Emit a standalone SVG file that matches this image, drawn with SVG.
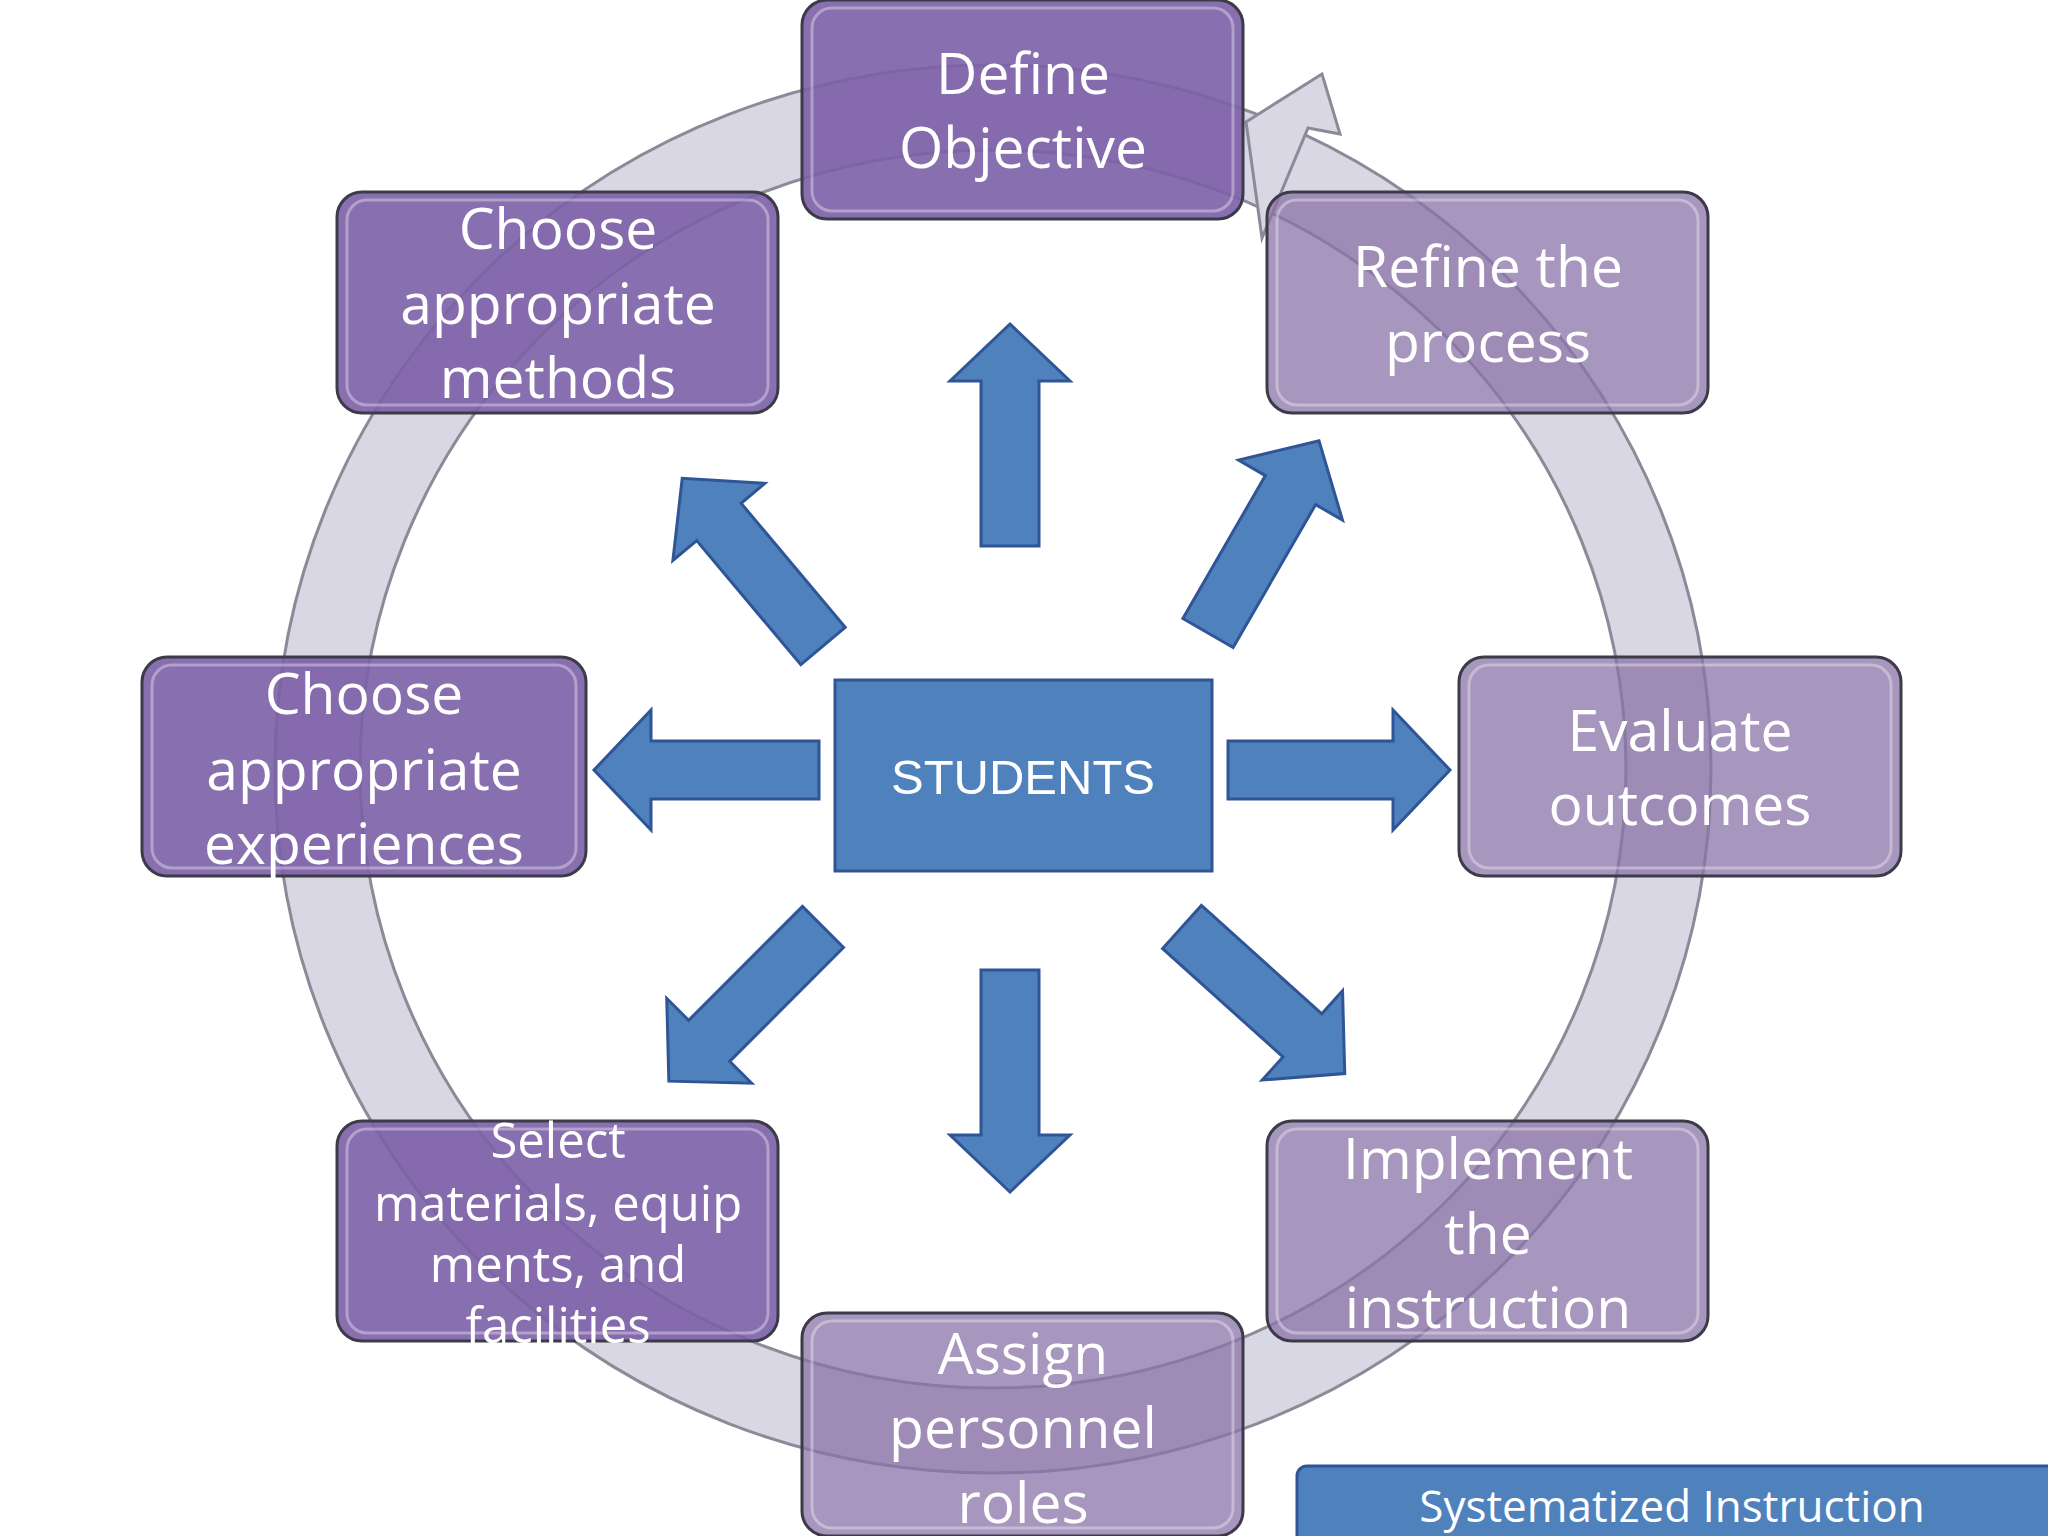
<svg xmlns="http://www.w3.org/2000/svg" width="2048" height="1536" viewBox="0 0 2048 1536">
<defs>
<style>
.box{stroke:#3c3b48;stroke-width:3}
.dark{fill:#7b5fa6;fill-opacity:0.9}
.light{fill:#8a73a8;fill-opacity:0.75}
.hl{fill:none;stroke:#ffffff;stroke-opacity:0.35;stroke-width:3}
.t{font-family:"Open Sans","DejaVu Sans",sans-serif;font-size:57px;fill:#ffffff;text-anchor:middle;dominant-baseline:central}
.s{font-size:49px}
.arr{fill:#4f81bd;stroke:#2f5597;stroke-width:3}
</style>
</defs>
<rect width="2048" height="1536" fill="#ffffff"/>
<g id="ring">
<path d="M993,65 A718,704 0 1 1 993,1473 A718,704 0 1 1 993,65 Z M993,150 A633,619 0 1 0 993,1388 A633,619 0 1 0 993,150 Z" fill="#d9d7e3" fill-rule="evenodd" stroke="#8c8a98" stroke-width="3"/>
<polygon points="1322,74 1246,122 1262,238 1308,128 1340,134" fill="#d9d7e3" stroke="#8c8a98" stroke-width="3"/>
</g>
<g id="connectors">
<path class="arr" transform="translate(1010,546) rotate(-90)" d="M0,-29 L165,-29 L165,-60 L222,0 L165,60 L165,29 L0,29 Z"/>
<path class="arr" transform="translate(1010,970) rotate(90)" d="M0,-29 L165,-29 L165,-60 L222,0 L165,60 L165,29 L0,29 Z"/>
<path class="arr" transform="translate(1228,770)" d="M0,-29 L165,-29 L165,-60 L222,0 L165,60 L165,29 L0,29 Z"/>
<path class="arr" transform="translate(819,770) rotate(180)" d="M0,-29 L168,-29 L168,-60 L225,0 L168,60 L168,29 L0,29 Z"/>
<path class="arr" transform="translate(823,646) rotate(-130)" d="M0,-29 L162,-29 L162,-60 L219,0 L162,60 L162,29 L0,29 Z"/>
<path class="arr" transform="translate(1208,633) rotate(-60)" d="M0,-29 L165,-29 L165,-60 L222,0 L165,60 L165,29 L0,29 Z"/>
<path class="arr" transform="translate(823,927) rotate(135)" d="M0,-29 L161,-29 L161,-60 L218,0 L161,60 L161,29 L0,29 Z"/>
<path class="arr" transform="translate(1182,927) rotate(42)" d="M0,-29 L162,-29 L162,-60 L219,0 L162,60 L162,29 L0,29 Z"/>
</g>
<g id="students">
<rect x="835" y="680" width="377" height="191" fill="#4f81bd" stroke="#2f5597" stroke-width="3"/>
<text x="1023" y="777" style="font-family:'Liberation Sans',Arial,sans-serif;font-size:49px;fill:#fff;text-anchor:middle;dominant-baseline:central">STUDENTS</text>
</g>
<g id="define">
<rect class="box dark" x="802" y="0" width="441" height="219" rx="25"/>
<rect class="hl" x="812" y="8" width="421" height="203" rx="20"/>
<text class="t" x="1023" y="72">Define</text><text class="t" x="1023" y="146">Objective</text>
</g>
<g id="refine">
<rect class="box light" x="1267" y="192" width="441" height="221" rx="25"/>
<rect class="hl" x="1277" y="200" width="421" height="205" rx="20"/>
<text class="t" x="1488" y="265">Refine the</text><text class="t" x="1488" y="340">process</text>
</g>
<g id="evaluate">
<rect class="box light" x="1459" y="657" width="442" height="219" rx="25"/>
<rect class="hl" x="1469" y="665" width="422" height="203" rx="20"/>
<text class="t" x="1680" y="729">Evaluate</text><text class="t" x="1680" y="803">outcomes</text>
</g>
<g id="implement">
<rect class="box light" x="1267" y="1121" width="441" height="220" rx="25"/>
<rect class="hl" x="1277" y="1129" width="421" height="204" rx="20"/>
<text class="t" x="1488" y="1157">Implement</text><text class="t" x="1488" y="1232">the</text><text class="t" x="1488" y="1306">instruction</text>
</g>
<g id="assign">
<rect class="box light" x="802" y="1313" width="441" height="223" rx="25"/>
<rect class="hl" x="812" y="1321" width="421" height="207" rx="20"/>
<text class="t" x="1023" y="1352">Assign</text><text class="t" x="1023" y="1426">personnel</text><text class="t" x="1023" y="1501">roles</text>
</g>
<g id="select">
<rect class="box dark" x="337" y="1121" width="441" height="220" rx="25"/>
<rect class="hl" x="347" y="1129" width="421" height="204" rx="20"/>
<text class="t s" x="558" y="1139">Select</text><text class="t s" x="558" y="1202">materials, equip</text><text class="t s" x="558" y="1263">ments, and</text><text class="t s" x="558" y="1324">facilities</text>
</g>
<g id="experiences">
<rect class="box dark" x="142" y="657" width="444" height="219" rx="25"/>
<rect class="hl" x="152" y="665" width="424" height="203" rx="20"/>
<text class="t" x="364" y="692">Choose</text><text class="t" x="364" y="768">appropriate</text><text class="t" x="364" y="842">experiences</text>
</g>
<g id="methods">
<rect class="box dark" x="337" y="192" width="441" height="221" rx="25"/>
<rect class="hl" x="347" y="200" width="421" height="205" rx="20"/>
<text class="t" x="558" y="227">Choose</text><text class="t" x="558" y="302">appropriate</text><text class="t" x="558" y="376">methods</text>
</g>
<g id="title">
<rect x="1297" y="1466" width="760" height="80" rx="10" fill="#4f81bd" stroke="#2f5597" stroke-width="3"/>
<text x="1672" y="1505" style="font-family:'Open Sans',sans-serif;font-size:44px;fill:#fff;text-anchor:middle;dominant-baseline:central">Systematized Instruction</text>
</g>
</svg>
